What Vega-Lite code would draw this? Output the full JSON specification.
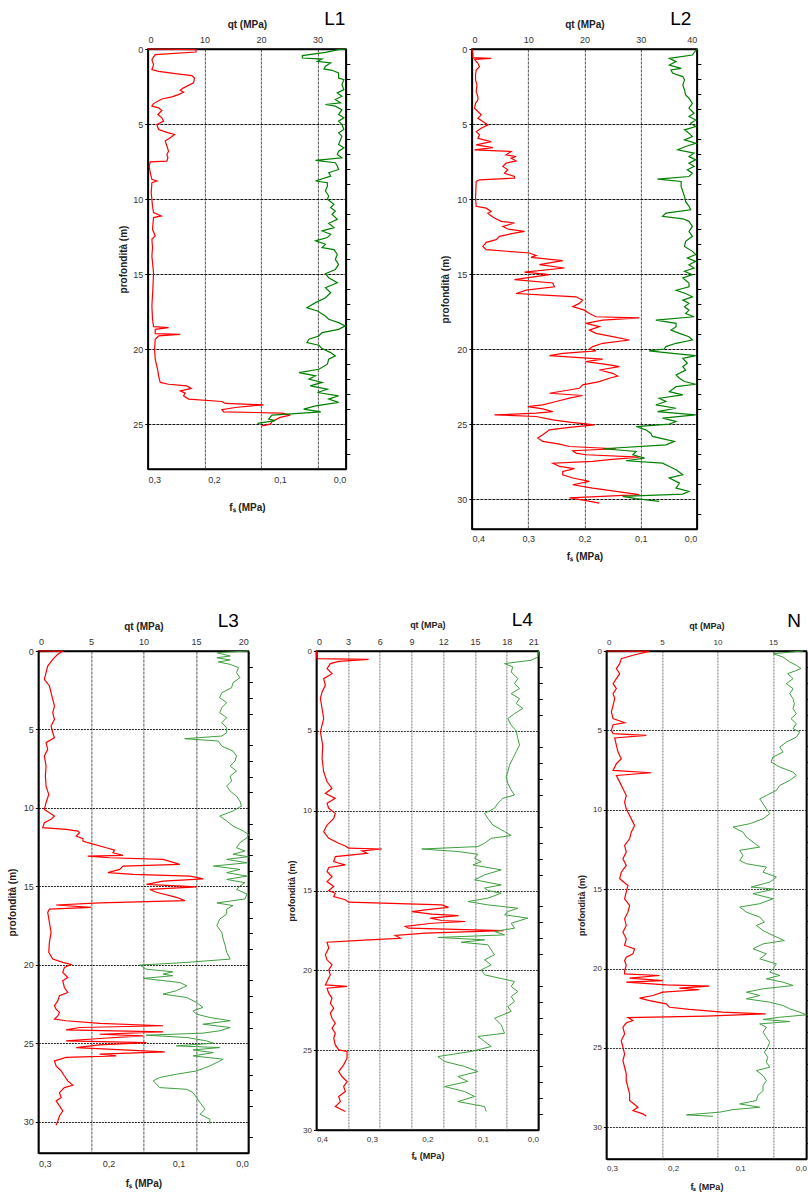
{
"$schema": "https://vega.github.io/schema/vega-lite/v6.json",
"background": "white",
"padding": {"left": 6, "top": 9, "right": 0, "bottom": 0},
"config": {
  "font": "Liberation Sans",
  "view": {"stroke": "#000", "strokeWidth": 1.5},
  "axis": {"labelFont": "Liberation Sans", "labelFontSize": 9, "labelColor": "#333", "titleFont": "Liberation Sans", "titleFontSize": 10, "titleFontWeight": "bold", "titleColor": "#222", "domainColor": "#000", "domainWidth": 1.5, "tickColor": "#000"},
  "title": {"font": "Liberation Sans", "fontSize": 19, "fontWeight": "normal", "color": "#000", "anchor": "end", "dx": -8, "offset": -10}
},
"datasets": {
"L1q": [{"d":0,"v":0},{"d":0.04,"v":8.5},{"d":0.2,"v":8.5},{"d":0.38,"v":1.3},{"d":0.71,"v":0.71},{"d":1.04,"v":1.0},{"d":1.37,"v":0.71},{"d":1.49,"v":1.89},{"d":1.64,"v":4.83},{"d":1.77,"v":7.78},{"d":1.93,"v":8.25},{"d":2.26,"v":8.07},{"d":2.59,"v":6.31},{"d":2.75,"v":5.72},{"d":2.88,"v":6.31},{"d":3.04,"v":5.42},{"d":3.19,"v":4.24},{"d":3.33,"v":2.47},{"d":3.64,"v":1.0},{"d":3.81,"v":0.71},{"d":3.92,"v":1.89},{"d":4.1,"v":2.47},{"d":4.37,"v":1.77},{"d":4.59,"v":2.47},{"d":4.81,"v":2.77},{"d":5.03,"v":1.59},{"d":5.37,"v":1.89},{"d":5.59,"v":3.65},{"d":5.7,"v":4.71},{"d":5.92,"v":3.95},{"d":6.14,"v":3.06},{"d":6.47,"v":3.36},{"d":6.81,"v":3.65},{"d":7.03,"v":3.36},{"d":7.25,"v":3.54},{"d":7.47,"v":3.36},{"d":7.52,"v":0.41},{"d":7.8,"v":0.24},{"d":8.25,"v":0.41},{"d":8.69,"v":0.71},{"d":8.8,"v":1.59},{"d":8.91,"v":0.71},{"d":9.58,"v":0.59},{"d":10.47,"v":0.82},{"d":10.91,"v":1.0},{"d":11.13,"v":2.36},{"d":11.24,"v":1.0},{"d":12.02,"v":0.82},{"d":12.46,"v":1.3},{"d":12.68,"v":0.71},{"d":13.24,"v":0.82},{"d":13.81,"v":0.71},{"d":14.92,"v":1.0},{"d":16.03,"v":0.88},{"d":17.13,"v":0.71},{"d":18.02,"v":0.82},{"d":18.51,"v":1.0},{"d":18.58,"v":3.65},{"d":18.69,"v":1.3},{"d":18.97,"v":1.3},{"d":19.02,"v":5.72},{"d":19.13,"v":1.89},{"d":19.35,"v":1.3},{"d":20.02,"v":1.18},{"d":20.68,"v":1.3},{"d":21.46,"v":1.77},{"d":21.79,"v":1.89},{"d":22.23,"v":2.18},{"d":22.35,"v":3.65},{"d":22.46,"v":6.89},{"d":22.63,"v":7.66},{"d":22.79,"v":5.72},{"d":22.94,"v":6.6},{"d":23.12,"v":6.31},{"d":23.34,"v":7.19},{"d":23.5,"v":13.08},{"d":23.63,"v":13.67},{"d":23.72,"v":20.45},{"d":23.79,"v":18.39},{"d":23.9,"v":15.44},{"d":24.05,"v":13.08},{"d":24.19,"v":13.38},{"d":24.27,"v":23.69},{"d":24.41,"v":25.16},{"d":24.56,"v":23.39},{"d":24.85,"v":21.92},{"d":25.01,"v":21.63},{"d":25.12,"v":20.15}],
"L1f": [{"d":0,"v":0.0},{"d":0.04,"v":0.011},{"d":0.22,"v":0.031},{"d":0.44,"v":0.066},{"d":0.6,"v":0.066},{"d":0.67,"v":0.036},{"d":0.82,"v":0.043},{"d":0.93,"v":0.023},{"d":1.15,"v":0.031},{"d":1.33,"v":0.033},{"d":1.42,"v":0.021},{"d":1.6,"v":0.011},{"d":1.93,"v":0.011},{"d":2.04,"v":0.003},{"d":2.37,"v":0.006},{"d":2.71,"v":0.003},{"d":2.93,"v":0.013},{"d":3.15,"v":0.006},{"d":3.37,"v":0.016},{"d":3.59,"v":0.008},{"d":3.7,"v":0.031},{"d":3.81,"v":0.016},{"d":4.04,"v":0.006},{"d":4.37,"v":0.011},{"d":4.59,"v":0.003},{"d":4.81,"v":0.011},{"d":5.03,"v":0.006},{"d":5.37,"v":0.003},{"d":5.59,"v":0.011},{"d":5.81,"v":0.006},{"d":6.03,"v":0.008},{"d":6.36,"v":0.011},{"d":6.59,"v":0.003},{"d":6.81,"v":0.011},{"d":7.03,"v":0.013},{"d":7.25,"v":0.006},{"d":7.43,"v":0.046},{"d":7.58,"v":0.016},{"d":7.8,"v":0.013},{"d":8.03,"v":0.011},{"d":8.25,"v":0.026},{"d":8.47,"v":0.023},{"d":8.8,"v":0.046},{"d":8.91,"v":0.028},{"d":9.14,"v":0.028},{"d":9.47,"v":0.031},{"d":9.8,"v":0.026},{"d":10.02,"v":0.028},{"d":10.35,"v":0.018},{"d":10.58,"v":0.023},{"d":10.8,"v":0.016},{"d":11.02,"v":0.021},{"d":11.35,"v":0.013},{"d":11.62,"v":0.026},{"d":11.91,"v":0.018},{"d":12.13,"v":0.036},{"d":12.35,"v":0.023},{"d":12.57,"v":0.028},{"d":12.79,"v":0.046},{"d":13.02,"v":0.031},{"d":13.24,"v":0.036},{"d":13.37,"v":0.018},{"d":13.7,"v":0.013},{"d":14.03,"v":0.016},{"d":14.36,"v":0.011},{"d":14.7,"v":0.016},{"d":14.98,"v":0.031},{"d":15.25,"v":0.026},{"d":15.58,"v":0.013},{"d":15.92,"v":0.031},{"d":16.25,"v":0.023},{"d":16.58,"v":0.031},{"d":16.91,"v":0.046},{"d":17.25,"v":0.059},{"d":17.47,"v":0.043},{"d":17.8,"v":0.031},{"d":18.02,"v":0.026},{"d":18.24,"v":0.011},{"d":18.46,"v":0.001},{"d":18.69,"v":0.011},{"d":18.91,"v":0.036},{"d":19.13,"v":0.041},{"d":19.35,"v":0.056},{"d":19.57,"v":0.059},{"d":19.75,"v":0.041},{"d":19.97,"v":0.036},{"d":20.24,"v":0.023},{"d":20.46,"v":0.016},{"d":20.68,"v":0.026},{"d":21.01,"v":0.028},{"d":21.35,"v":0.041},{"d":21.57,"v":0.071},{"d":21.79,"v":0.046},{"d":22.01,"v":0.056},{"d":22.23,"v":0.036},{"d":22.46,"v":0.054},{"d":22.68,"v":0.028},{"d":22.9,"v":0.043},{"d":23.12,"v":0.011},{"d":23.34,"v":0.026},{"d":23.56,"v":0.011},{"d":23.79,"v":0.046},{"d":24.01,"v":0.064},{"d":24.19,"v":0.038},{"d":24.27,"v":0.066},{"d":24.41,"v":0.112},{"d":24.67,"v":0.117},{"d":24.78,"v":0.107},{"d":24.96,"v":0.134}],
"L2q": [{"d":0,"v":0},{"d":0.29,"v":0.18},{"d":0.58,"v":0.18},{"d":0.62,"v":3.43},{"d":0.69,"v":0.47},{"d":0.95,"v":1.07},{"d":1.18,"v":1.36},{"d":1.4,"v":0.77},{"d":1.73,"v":0.65},{"d":2.06,"v":0.65},{"d":2.4,"v":0.89},{"d":2.84,"v":0.77},{"d":3.17,"v":1.07},{"d":3.39,"v":1.07},{"d":3.62,"v":0.65},{"d":3.95,"v":0.47},{"d":4.17,"v":1.07},{"d":4.39,"v":1.66},{"d":4.62,"v":1.07},{"d":4.84,"v":1.95},{"d":5.06,"v":2.84},{"d":5.28,"v":1.66},{"d":5.5,"v":0.77},{"d":5.72,"v":1.36},{"d":5.95,"v":1.07},{"d":6.17,"v":3.43},{"d":6.39,"v":0.77},{"d":6.57,"v":3.73},{"d":6.72,"v":0.47},{"d":6.83,"v":6.98},{"d":7.06,"v":6.09},{"d":7.17,"v":7.87},{"d":7.28,"v":6.98},{"d":7.46,"v":7.87},{"d":7.61,"v":6.09},{"d":7.83,"v":5.5},{"d":8.05,"v":6.39},{"d":8.28,"v":5.8},{"d":8.5,"v":7.57},{"d":8.61,"v":7.57},{"d":8.72,"v":1.36},{"d":8.83,"v":0.77},{"d":9.94,"v":0.65},{"d":10.49,"v":0.77},{"d":10.61,"v":2.54},{"d":10.83,"v":3.43},{"d":10.94,"v":2.84},{"d":11.05,"v":3.14},{"d":11.27,"v":4.02},{"d":11.49,"v":5.21},{"d":11.6,"v":7.57},{"d":11.83,"v":5.5},{"d":12.0,"v":6.39},{"d":12.16,"v":9.35},{"d":12.27,"v":7.57},{"d":12.49,"v":4.91},{"d":12.71,"v":4.32},{"d":12.89,"v":2.54},{"d":13.16,"v":1.95},{"d":13.38,"v":2.54},{"d":13.6,"v":10.24},{"d":13.76,"v":11.42},{"d":13.89,"v":10.53},{"d":14.11,"v":16.15},{"d":14.38,"v":12.01},{"d":14.6,"v":16.45},{"d":14.87,"v":9.35},{"d":15.04,"v":13.79},{"d":15.38,"v":7.57},{"d":15.6,"v":14.38},{"d":15.85,"v":14.67},{"d":16.08,"v":9.64},{"d":16.3,"v":7.87},{"d":16.41,"v":12.9},{"d":16.52,"v":18.52},{"d":16.74,"v":19.7},{"d":16.96,"v":19.11},{"d":17.18,"v":17.93},{"d":17.41,"v":20.0},{"d":17.63,"v":20.89},{"d":17.85,"v":22.07},{"d":17.92,"v":29.76},{"d":18.07,"v":23.25},{"d":18.29,"v":20.3},{"d":18.51,"v":22.66},{"d":18.74,"v":20.89},{"d":18.96,"v":22.07},{"d":19.18,"v":25.03},{"d":19.4,"v":27.99},{"d":19.62,"v":23.25},{"d":19.84,"v":21.48},{"d":20.0,"v":20.89},{"d":20.13,"v":22.07},{"d":20.29,"v":16.15},{"d":20.44,"v":13.79},{"d":20.58,"v":19.11},{"d":20.67,"v":23.25},{"d":20.84,"v":20.3},{"d":21.06,"v":24.44},{"d":21.18,"v":26.21},{"d":21.4,"v":22.66},{"d":21.62,"v":25.03},{"d":21.8,"v":25.92},{"d":21.95,"v":24.44},{"d":22.17,"v":22.66},{"d":22.39,"v":19.7},{"d":22.62,"v":19.11},{"d":22.95,"v":13.79},{"d":23.1,"v":19.7},{"d":23.28,"v":17.34},{"d":23.5,"v":14.97},{"d":23.73,"v":12.6},{"d":23.84,"v":9.94},{"d":23.99,"v":12.6},{"d":24.17,"v":14.38},{"d":24.28,"v":11.42},{"d":24.39,"v":4.02},{"d":24.5,"v":11.42},{"d":24.72,"v":14.38},{"d":24.88,"v":17.34},{"d":25.06,"v":21.78},{"d":25.23,"v":17.34},{"d":25.39,"v":13.79},{"d":25.72,"v":12.6},{"d":25.94,"v":11.72},{"d":26.16,"v":12.6},{"d":26.34,"v":15.56},{"d":26.5,"v":17.34},{"d":26.65,"v":25.62},{"d":26.78,"v":17.93},{"d":26.94,"v":18.52},{"d":27.05,"v":20.3},{"d":27.21,"v":29.76},{"d":27.38,"v":24.44},{"d":27.49,"v":21.48},{"d":27.61,"v":14.38},{"d":27.83,"v":15.56},{"d":27.98,"v":18.22},{"d":28.16,"v":16.15},{"d":28.38,"v":16.15},{"d":28.6,"v":17.93},{"d":28.82,"v":20.89},{"d":29.05,"v":17.93},{"d":29.27,"v":21.48},{"d":29.49,"v":25.62},{"d":29.71,"v":29.76},{"d":29.93,"v":17.34},{"d":30.11,"v":20.3},{"d":30.27,"v":22.66}],
"L2f": [{"d":0,"v":0},{"d":0.4,"v":0.008},{"d":0.62,"v":0.049},{"d":0.84,"v":0.037},{"d":1.07,"v":0.049},{"d":1.29,"v":0.028},{"d":1.4,"v":0.046},{"d":1.62,"v":0.043},{"d":1.84,"v":0.025},{"d":2.06,"v":0.022},{"d":2.4,"v":0.025},{"d":2.73,"v":0.022},{"d":3.06,"v":0.02},{"d":3.28,"v":0.014},{"d":3.62,"v":0.008},{"d":3.95,"v":0.014},{"d":4.28,"v":0.005},{"d":4.5,"v":0.014},{"d":4.73,"v":0.002},{"d":4.95,"v":0.011},{"d":5.17,"v":0.002},{"d":5.39,"v":0.022},{"d":5.61,"v":0.014},{"d":5.84,"v":0.008},{"d":6.06,"v":0.022},{"d":6.28,"v":0.002},{"d":6.5,"v":0.02},{"d":6.72,"v":0.034},{"d":6.94,"v":0.005},{"d":7.17,"v":0.014},{"d":7.39,"v":0.002},{"d":7.61,"v":0.014},{"d":7.83,"v":0.005},{"d":8.05,"v":0.017},{"d":8.28,"v":0.008},{"d":8.5,"v":0.014},{"d":8.68,"v":0.07},{"d":8.83,"v":0.028},{"d":9.16,"v":0.028},{"d":9.5,"v":0.025},{"d":9.83,"v":0.022},{"d":10.16,"v":0.02},{"d":10.49,"v":0.014},{"d":10.72,"v":0.011},{"d":10.94,"v":0.055},{"d":11.16,"v":0.061},{"d":11.32,"v":0.025},{"d":11.49,"v":0.014},{"d":11.83,"v":0.008},{"d":12.16,"v":0.014},{"d":12.49,"v":0.008},{"d":12.82,"v":0.02},{"d":13.16,"v":0.022},{"d":13.49,"v":0.008},{"d":13.71,"v":0.002},{"d":13.93,"v":0.017},{"d":14.16,"v":0.002},{"d":14.38,"v":0.014},{"d":14.6,"v":0.005},{"d":14.82,"v":0.022},{"d":15.04,"v":0.008},{"d":15.27,"v":0.025},{"d":15.6,"v":0.014},{"d":15.85,"v":0.014},{"d":16.08,"v":0.037},{"d":16.3,"v":0.02},{"d":16.52,"v":0.008},{"d":16.74,"v":0.025},{"d":16.96,"v":0.014},{"d":17.18,"v":0.022},{"d":17.41,"v":0.014},{"d":17.63,"v":0.02},{"d":17.85,"v":0.005},{"d":18.07,"v":0.073},{"d":18.29,"v":0.037},{"d":18.51,"v":0.037},{"d":18.74,"v":0.046},{"d":18.96,"v":0.031},{"d":19.18,"v":0.014},{"d":19.4,"v":0.008},{"d":19.62,"v":0.037},{"d":19.84,"v":0.055},{"d":20.0,"v":0.058},{"d":20.13,"v":0.085},{"d":20.29,"v":0.043},{"d":20.44,"v":0.002},{"d":20.62,"v":0.025},{"d":20.95,"v":0.017},{"d":21.18,"v":0.025},{"d":21.4,"v":0.02},{"d":21.73,"v":0.037},{"d":21.95,"v":0.031},{"d":22.17,"v":0.022},{"d":22.35,"v":0.002},{"d":22.51,"v":0.037},{"d":22.84,"v":0.049},{"d":23.06,"v":0.025},{"d":23.28,"v":0.067},{"d":23.5,"v":0.055},{"d":23.73,"v":0.073},{"d":23.95,"v":0.037},{"d":24.17,"v":0.07},{"d":24.39,"v":0.002},{"d":24.61,"v":0.061},{"d":24.83,"v":0.037},{"d":25.01,"v":0.049},{"d":25.17,"v":0.108},{"d":25.39,"v":0.091},{"d":25.61,"v":0.082},{"d":25.83,"v":0.079},{"d":26.16,"v":0.04},{"d":26.39,"v":0.055},{"d":26.65,"v":0.167},{"d":26.83,"v":0.108},{"d":27.05,"v":0.114},{"d":27.27,"v":0.093},{"d":27.45,"v":0.126},{"d":27.61,"v":0.061},{"d":27.83,"v":0.049},{"d":28.05,"v":0.037},{"d":28.38,"v":0.025},{"d":28.6,"v":0.049},{"d":28.94,"v":0.031},{"d":29.27,"v":0.037},{"d":29.49,"v":0.014},{"d":29.67,"v":0.025},{"d":29.82,"v":0.132},{"d":29.98,"v":0.108},{"d":30.16,"v":0.067}],
"L3q": [{"d":0,"v":0},{"d":0.02,"v":2.32},{"d":0.21,"v":1.85},{"d":0.53,"v":1.37},{"d":0.96,"v":0.89},{"d":1.38,"v":0.73},{"d":1.81,"v":0.57},{"d":2.23,"v":1.05},{"d":2.66,"v":1.21},{"d":3.08,"v":1.37},{"d":3.51,"v":1.53},{"d":3.93,"v":1.37},{"d":4.36,"v":1.53},{"d":4.78,"v":1.21},{"d":5.21,"v":1.37},{"d":5.53,"v":1.53},{"d":5.84,"v":0.73},{"d":6.27,"v":0.89},{"d":6.69,"v":0.57},{"d":7.33,"v":0.73},{"d":7.97,"v":0.67},{"d":8.61,"v":0.73},{"d":9.14,"v":0.99},{"d":9.67,"v":0.73},{"d":10.1,"v":0.57},{"d":10.52,"v":1.53},{"d":10.73,"v":1.21},{"d":10.95,"v":0.57},{"d":11.26,"v":0.41},{"d":11.37,"v":2.64},{"d":11.48,"v":3.76},{"d":11.58,"v":3.92},{"d":11.8,"v":3.6},{"d":11.97,"v":4.24},{"d":12.11,"v":4.24},{"d":12.22,"v":4.71},{"d":12.54,"v":6.46},{"d":12.69,"v":7.26},{"d":12.86,"v":7.1},{"d":13.03,"v":8.06},{"d":13.07,"v":4.71},{"d":13.18,"v":6.78},{"d":13.28,"v":11.88},{"d":13.6,"v":13.47},{"d":13.71,"v":8.06},{"d":13.92,"v":7.74},{"d":14.13,"v":6.62},{"d":14.24,"v":9.01},{"d":14.35,"v":14.43},{"d":14.52,"v":15.7},{"d":14.67,"v":11.88},{"d":14.88,"v":10.29},{"d":15.03,"v":15.06},{"d":15.2,"v":10.61},{"d":15.38,"v":11.24},{"d":15.7,"v":13.15},{"d":15.91,"v":13.95},{"d":16.06,"v":5.83},{"d":16.19,"v":1.69},{"d":16.34,"v":5.03},{"d":16.45,"v":1.05},{"d":16.66,"v":0.89},{"d":17.3,"v":1.05},{"d":17.94,"v":1.21},{"d":18.57,"v":1.05},{"d":19.21,"v":0.99},{"d":19.64,"v":1.37},{"d":19.85,"v":2.32},{"d":19.98,"v":3.12},{"d":20.17,"v":2.48},{"d":20.49,"v":2.32},{"d":20.81,"v":2.8},{"d":21.02,"v":2.32},{"d":21.45,"v":2.48},{"d":21.77,"v":2.8},{"d":21.98,"v":2.01},{"d":22.3,"v":1.85},{"d":22.62,"v":1.53},{"d":22.83,"v":1.69},{"d":23.04,"v":2.01},{"d":23.26,"v":1.85},{"d":23.47,"v":1.53},{"d":23.57,"v":2.64},{"d":23.74,"v":5.83},{"d":23.89,"v":11.88},{"d":24.0,"v":3.92},{"d":24.15,"v":2.64},{"d":24.28,"v":11.88},{"d":24.43,"v":5.83},{"d":24.53,"v":9.97},{"d":24.7,"v":5.83},{"d":24.85,"v":2.64},{"d":24.96,"v":10.29},{"d":25.11,"v":5.83},{"d":25.28,"v":3.6},{"d":25.43,"v":8.06},{"d":25.55,"v":12.04},{"d":25.7,"v":5.83},{"d":25.81,"v":7.42},{"d":25.91,"v":2.64},{"d":26.13,"v":1.53},{"d":26.45,"v":1.69},{"d":26.77,"v":2.17},{"d":27.09,"v":2.48},{"d":27.4,"v":2.8},{"d":27.68,"v":3.28},{"d":27.83,"v":2.48},{"d":28.15,"v":2.01},{"d":28.47,"v":2.17},{"d":28.68,"v":1.69},{"d":29.0,"v":2.01},{"d":29.32,"v":2.32},{"d":29.64,"v":2.01},{"d":29.96,"v":1.85},{"d":30.23,"v":1.69}],
"L3f": [{"d":0,"v":0},{"d":0.11,"v":0.045},{"d":0.32,"v":0.026},{"d":0.43,"v":0.045},{"d":0.57,"v":0.026},{"d":0.7,"v":0.043},{"d":0.85,"v":0.026},{"d":1.06,"v":0.014},{"d":1.38,"v":0.017},{"d":1.7,"v":0.012},{"d":2.02,"v":0.022},{"d":2.34,"v":0.024},{"d":2.66,"v":0.038},{"d":2.98,"v":0.041},{"d":3.29,"v":0.031},{"d":3.61,"v":0.038},{"d":3.93,"v":0.041},{"d":4.25,"v":0.031},{"d":4.57,"v":0.038},{"d":4.89,"v":0.031},{"d":5.21,"v":0.031},{"d":5.42,"v":0.038},{"d":5.59,"v":0.091},{"d":5.74,"v":0.043},{"d":6.06,"v":0.038},{"d":6.38,"v":0.022},{"d":6.69,"v":0.017},{"d":7.01,"v":0.019},{"d":7.33,"v":0.026},{"d":7.65,"v":0.017},{"d":7.97,"v":0.026},{"d":8.29,"v":0.024},{"d":8.61,"v":0.031},{"d":8.93,"v":0.026},{"d":9.25,"v":0.017},{"d":9.57,"v":0.012},{"d":9.89,"v":0.01},{"d":10.2,"v":0.022},{"d":10.52,"v":0.041},{"d":10.84,"v":0.031},{"d":11.16,"v":0.022},{"d":11.48,"v":0.007},{"d":11.69,"v":0.0},{"d":11.9,"v":0.002},{"d":12.22,"v":0.012},{"d":12.54,"v":0.017},{"d":12.75,"v":0.005},{"d":12.96,"v":0.022},{"d":13.11,"v":0.0},{"d":13.28,"v":0.031},{"d":13.5,"v":0.002},{"d":13.71,"v":0.05},{"d":13.92,"v":0.012},{"d":14.13,"v":0.031},{"d":14.35,"v":0.002},{"d":14.56,"v":0.031},{"d":14.77,"v":0.005},{"d":14.98,"v":0.012},{"d":15.2,"v":0.017},{"d":15.49,"v":0.002},{"d":15.81,"v":0.005},{"d":16.06,"v":0.045},{"d":16.23,"v":0.022},{"d":16.45,"v":0.031},{"d":16.77,"v":0.031},{"d":17.09,"v":0.041},{"d":17.51,"v":0.045},{"d":17.94,"v":0.038},{"d":18.36,"v":0.036},{"d":18.79,"v":0.033},{"d":19.21,"v":0.031},{"d":19.64,"v":0.026},{"d":19.85,"v":0.088},{"d":20.02,"v":0.155},{"d":20.28,"v":0.146},{"d":20.45,"v":0.108},{"d":20.6,"v":0.122},{"d":20.7,"v":0.108},{"d":20.87,"v":0.15},{"d":21.13,"v":0.098},{"d":21.34,"v":0.088},{"d":21.66,"v":0.103},{"d":21.87,"v":0.122},{"d":22.09,"v":0.088},{"d":22.4,"v":0.074},{"d":22.72,"v":0.065},{"d":22.94,"v":0.079},{"d":23.15,"v":0.074},{"d":23.36,"v":0.055},{"d":23.57,"v":0.026},{"d":23.79,"v":0.065},{"d":24.0,"v":0.026},{"d":24.21,"v":0.041},{"d":24.36,"v":0.065},{"d":24.49,"v":0.146},{"d":24.64,"v":0.088},{"d":24.85,"v":0.06},{"d":25.0,"v":0.05},{"d":25.17,"v":0.103},{"d":25.28,"v":0.041},{"d":25.43,"v":0.079},{"d":25.6,"v":0.05},{"d":25.81,"v":0.079},{"d":26.02,"v":0.036},{"d":26.23,"v":0.045},{"d":26.45,"v":0.055},{"d":26.77,"v":0.074},{"d":26.98,"v":0.103},{"d":27.19,"v":0.127},{"d":27.4,"v":0.136},{"d":27.62,"v":0.131},{"d":27.83,"v":0.127},{"d":27.94,"v":0.088},{"d":28.15,"v":0.079},{"d":28.47,"v":0.074},{"d":28.79,"v":0.069},{"d":29.21,"v":0.062},{"d":29.53,"v":0.069},{"d":29.85,"v":0.055},{"d":30.13,"v":0.055}],
"L4q": [{"d":0,"v":0},{"d":0.48,"v":0.06},{"d":0.52,"v":4.94},{"d":0.65,"v":2.11},{"d":0.79,"v":1.32},{"d":1.1,"v":1.01},{"d":1.42,"v":1.48},{"d":1.73,"v":0.69},{"d":2.15,"v":0.85},{"d":2.56,"v":0.54},{"d":2.98,"v":0.38},{"d":3.6,"v":0.54},{"d":4.23,"v":0.69},{"d":5.06,"v":0.38},{"d":5.9,"v":0.6},{"d":6.73,"v":0.54},{"d":7.56,"v":0.69},{"d":8.19,"v":1.01},{"d":8.6,"v":1.48},{"d":8.92,"v":0.85},{"d":9.23,"v":1.79},{"d":9.54,"v":1.01},{"d":9.85,"v":1.17},{"d":10.17,"v":1.79},{"d":10.48,"v":1.64},{"d":10.9,"v":1.01},{"d":11.31,"v":0.69},{"d":11.73,"v":1.17},{"d":12.04,"v":2.11},{"d":12.21,"v":2.74},{"d":12.35,"v":3.05},{"d":12.4,"v":6.2},{"d":12.52,"v":4.31},{"d":12.67,"v":4.79},{"d":12.77,"v":3.37},{"d":12.88,"v":1.79},{"d":13.19,"v":1.64},{"d":13.4,"v":2.74},{"d":13.56,"v":1.17},{"d":13.81,"v":1.01},{"d":14.13,"v":1.48},{"d":14.44,"v":1.01},{"d":14.75,"v":1.64},{"d":15.0,"v":1.17},{"d":15.17,"v":1.79},{"d":15.38,"v":1.64},{"d":15.58,"v":2.74},{"d":15.73,"v":3.05},{"d":15.9,"v":11.87},{"d":16.06,"v":12.5},{"d":16.21,"v":10.3},{"d":16.32,"v":9.04},{"d":16.48,"v":10.93},{"d":16.57,"v":13.44},{"d":16.73,"v":10.77},{"d":16.88,"v":11.87},{"d":16.94,"v":14.07},{"d":17.05,"v":10.93},{"d":17.25,"v":8.41},{"d":17.36,"v":8.72},{"d":17.51,"v":17.7},{"d":17.67,"v":10.3},{"d":17.82,"v":7.46},{"d":17.99,"v":7.93},{"d":18.09,"v":4.94},{"d":18.24,"v":1.01},{"d":18.61,"v":1.17},{"d":19.03,"v":0.85},{"d":19.34,"v":1.01},{"d":19.66,"v":1.48},{"d":19.97,"v":1.17},{"d":20.28,"v":1.32},{"d":20.7,"v":1.01},{"d":20.91,"v":0.85},{"d":21.01,"v":2.9},{"d":21.12,"v":1.01},{"d":21.43,"v":1.17},{"d":21.74,"v":1.48},{"d":22.06,"v":1.32},{"d":22.37,"v":1.64},{"d":22.68,"v":1.32},{"d":23.0,"v":1.48},{"d":23.31,"v":1.79},{"d":23.62,"v":1.48},{"d":23.94,"v":1.79},{"d":24.25,"v":1.64},{"d":24.67,"v":1.79},{"d":24.98,"v":2.11},{"d":25.08,"v":2.9},{"d":25.5,"v":2.9},{"d":25.92,"v":2.58},{"d":26.34,"v":2.11},{"d":26.65,"v":2.42},{"d":26.96,"v":2.9},{"d":27.28,"v":2.58},{"d":27.59,"v":2.74},{"d":27.9,"v":2.11},{"d":28.22,"v":2.27},{"d":28.53,"v":1.79},{"d":28.84,"v":2.74}],
"L4f": [{"d":0,"v":0},{"d":0.38,"v":0.001},{"d":0.58,"v":0.013},{"d":0.79,"v":0.061},{"d":1.0,"v":0.046},{"d":1.31,"v":0.049},{"d":1.73,"v":0.037},{"d":2.04,"v":0.043},{"d":2.35,"v":0.034},{"d":2.67,"v":0.049},{"d":2.98,"v":0.034},{"d":3.29,"v":0.04},{"d":3.6,"v":0.028},{"d":3.92,"v":0.043},{"d":4.23,"v":0.055},{"d":4.65,"v":0.049},{"d":5.0,"v":0.04},{"d":5.48,"v":0.037},{"d":5.9,"v":0.034},{"d":6.31,"v":0.04},{"d":6.73,"v":0.046},{"d":7.15,"v":0.052},{"d":7.56,"v":0.055},{"d":7.88,"v":0.058},{"d":8.29,"v":0.055},{"d":8.71,"v":0.049},{"d":9.02,"v":0.043},{"d":9.23,"v":0.064},{"d":9.54,"v":0.073},{"d":9.85,"v":0.079},{"d":10.17,"v":0.097},{"d":10.48,"v":0.091},{"d":10.9,"v":0.082},{"d":11.31,"v":0.061},{"d":11.56,"v":0.049},{"d":11.73,"v":0.085},{"d":12.04,"v":0.097},{"d":12.25,"v":0.109},{"d":12.4,"v":0.21},{"d":12.56,"v":0.145},{"d":12.73,"v":0.109},{"d":12.98,"v":0.115},{"d":13.19,"v":0.103},{"d":13.4,"v":0.118},{"d":13.71,"v":0.067},{"d":14.02,"v":0.097},{"d":14.33,"v":0.115},{"d":14.65,"v":0.067},{"d":14.85,"v":0.097},{"d":15.0,"v":0.091},{"d":15.17,"v":0.067},{"d":15.48,"v":0.091},{"d":15.69,"v":0.127},{"d":15.9,"v":0.091},{"d":16.11,"v":0.037},{"d":16.32,"v":0.055},{"d":16.52,"v":0.061},{"d":16.73,"v":0.019},{"d":17.05,"v":0.049},{"d":17.36,"v":0.043},{"d":17.57,"v":0.079},{"d":17.78,"v":0.061},{"d":17.94,"v":0.181},{"d":18.09,"v":0.097},{"d":18.24,"v":0.139},{"d":18.4,"v":0.091},{"d":18.72,"v":0.085},{"d":19.03,"v":0.079},{"d":19.34,"v":0.097},{"d":19.66,"v":0.085},{"d":19.97,"v":0.103},{"d":20.28,"v":0.097},{"d":20.7,"v":0.043},{"d":21.01,"v":0.049},{"d":21.33,"v":0.037},{"d":21.64,"v":0.049},{"d":21.95,"v":0.043},{"d":22.27,"v":0.055},{"d":22.58,"v":0.049},{"d":23.0,"v":0.079},{"d":23.41,"v":0.067},{"d":23.94,"v":0.061},{"d":24.14,"v":0.109},{"d":24.46,"v":0.097},{"d":24.77,"v":0.085},{"d":25.08,"v":0.121},{"d":25.4,"v":0.181},{"d":25.71,"v":0.169},{"d":26.02,"v":0.133},{"d":26.34,"v":0.109},{"d":26.65,"v":0.145},{"d":26.96,"v":0.127},{"d":27.28,"v":0.169},{"d":27.59,"v":0.133},{"d":27.9,"v":0.115},{"d":28.22,"v":0.145},{"d":28.53,"v":0.097},{"d":28.84,"v":0.094}],
"Nq": [{"d":0,"v":0},{"d":0.02,"v":3.88},{"d":0.27,"v":2.39},{"d":0.48,"v":1.34},{"d":0.8,"v":1.2},{"d":1.11,"v":0.9},{"d":1.43,"v":1.2},{"d":1.74,"v":0.9},{"d":2.06,"v":0.6},{"d":2.37,"v":0.9},{"d":2.69,"v":0.6},{"d":3.0,"v":0.75},{"d":3.42,"v":0.6},{"d":3.84,"v":0.45},{"d":4.26,"v":0.6},{"d":4.52,"v":1.64},{"d":4.64,"v":0.6},{"d":5.0,"v":0.45},{"d":5.21,"v":0.6},{"d":5.32,"v":3.59},{"d":5.48,"v":0.75},{"d":5.95,"v":0.9},{"d":6.37,"v":1.05},{"d":6.79,"v":1.34},{"d":7.1,"v":0.9},{"d":7.52,"v":0.6},{"d":7.67,"v":4.03},{"d":7.84,"v":0.9},{"d":8.26,"v":1.2},{"d":8.68,"v":1.49},{"d":9.1,"v":1.79},{"d":9.52,"v":1.64},{"d":9.94,"v":1.79},{"d":10.36,"v":2.09},{"d":10.78,"v":2.39},{"d":10.99,"v":2.54},{"d":11.41,"v":2.24},{"d":11.83,"v":2.09},{"d":12.25,"v":1.64},{"d":12.67,"v":1.79},{"d":13.09,"v":1.49},{"d":13.51,"v":1.79},{"d":13.93,"v":1.34},{"d":14.35,"v":1.2},{"d":14.77,"v":1.94},{"d":15.19,"v":1.79},{"d":15.61,"v":1.64},{"d":16.03,"v":2.09},{"d":16.45,"v":1.94},{"d":16.87,"v":1.64},{"d":17.29,"v":1.79},{"d":17.71,"v":1.49},{"d":18.13,"v":1.79},{"d":18.55,"v":1.64},{"d":18.76,"v":2.54},{"d":19.08,"v":2.39},{"d":19.29,"v":1.79},{"d":19.5,"v":1.64},{"d":19.81,"v":1.79},{"d":20.13,"v":1.64},{"d":20.34,"v":1.64},{"d":20.44,"v":4.78},{"d":20.61,"v":2.09},{"d":20.76,"v":5.08},{"d":20.86,"v":1.79},{"d":21.03,"v":5.38},{"d":21.11,"v":9.26},{"d":21.24,"v":6.57},{"d":21.34,"v":8.37},{"d":21.49,"v":5.08},{"d":21.7,"v":4.18},{"d":21.87,"v":2.99},{"d":22.02,"v":3.88},{"d":22.23,"v":5.38},{"d":22.44,"v":5.68},{"d":22.58,"v":7.47},{"d":22.75,"v":10.46},{"d":22.86,"v":14.34},{"d":23.0,"v":8.96},{"d":23.09,"v":1.94},{"d":23.28,"v":2.39},{"d":23.42,"v":1.79},{"d":23.7,"v":1.49},{"d":24.12,"v":1.64},{"d":24.54,"v":1.34},{"d":24.96,"v":1.49},{"d":25.38,"v":1.64},{"d":25.8,"v":1.49},{"d":26.22,"v":1.64},{"d":26.64,"v":1.79},{"d":27.06,"v":1.79},{"d":27.48,"v":1.94},{"d":27.9,"v":2.09},{"d":28.32,"v":2.09},{"d":28.74,"v":2.84},{"d":28.95,"v":2.39},{"d":29.16,"v":3.29},{"d":29.31,"v":3.59}],
"Nf": [{"d":0,"v":0.005},{"d":0.17,"v":0.05},{"d":0.38,"v":0.035},{"d":0.69,"v":0.025},{"d":0.9,"v":0.015},{"d":1.11,"v":0.008},{"d":1.43,"v":0.028},{"d":1.74,"v":0.02},{"d":2.06,"v":0.03},{"d":2.37,"v":0.02},{"d":2.69,"v":0.025},{"d":3.0,"v":0.02},{"d":3.32,"v":0.018},{"d":3.63,"v":0.02},{"d":3.95,"v":0.015},{"d":4.26,"v":0.023},{"d":4.58,"v":0.015},{"d":4.89,"v":0.02},{"d":5.1,"v":0.01},{"d":5.42,"v":0.015},{"d":5.74,"v":0.03},{"d":6.05,"v":0.04},{"d":6.37,"v":0.035},{"d":6.68,"v":0.05},{"d":7.0,"v":0.053},{"d":7.31,"v":0.04},{"d":7.63,"v":0.02},{"d":7.84,"v":0.015},{"d":8.15,"v":0.025},{"d":8.47,"v":0.04},{"d":8.78,"v":0.045},{"d":9.1,"v":0.06},{"d":9.31,"v":0.07},{"d":9.62,"v":0.065},{"d":9.94,"v":0.06},{"d":10.25,"v":0.055},{"d":10.57,"v":0.065},{"d":10.88,"v":0.085},{"d":11.09,"v":0.11},{"d":11.41,"v":0.095},{"d":11.72,"v":0.09},{"d":12.04,"v":0.08},{"d":12.35,"v":0.07},{"d":12.56,"v":0.1},{"d":12.88,"v":0.095},{"d":13.19,"v":0.1},{"d":13.4,"v":0.09},{"d":13.61,"v":0.06},{"d":13.93,"v":0.065},{"d":14.24,"v":0.045},{"d":14.56,"v":0.055},{"d":14.87,"v":0.083},{"d":15.0,"v":0.048},{"d":15.29,"v":0.08},{"d":15.61,"v":0.05},{"d":15.92,"v":0.07},{"d":16.13,"v":0.1},{"d":16.45,"v":0.09},{"d":16.76,"v":0.07},{"d":17.08,"v":0.063},{"d":17.29,"v":0.075},{"d":17.61,"v":0.065},{"d":17.92,"v":0.05},{"d":18.24,"v":0.033},{"d":18.45,"v":0.065},{"d":18.76,"v":0.08},{"d":19.08,"v":0.06},{"d":19.39,"v":0.07},{"d":19.71,"v":0.045},{"d":20.02,"v":0.05},{"d":20.23,"v":0.055},{"d":20.44,"v":0.04},{"d":20.65,"v":0.06},{"d":20.86,"v":0.035},{"d":21.07,"v":0.02},{"d":21.28,"v":0.065},{"d":21.49,"v":0.09},{"d":21.7,"v":0.07},{"d":21.91,"v":0.09},{"d":22.12,"v":0.055},{"d":22.33,"v":0.035},{"d":22.54,"v":0.025},{"d":22.75,"v":0.01},{"d":22.92,"v":0.0},{"d":23.07,"v":0.04},{"d":23.21,"v":0.065},{"d":23.34,"v":0.025},{"d":23.49,"v":0.07},{"d":23.7,"v":0.06},{"d":24.01,"v":0.065},{"d":24.33,"v":0.06},{"d":24.64,"v":0.055},{"d":24.96,"v":0.058},{"d":25.27,"v":0.063},{"d":25.59,"v":0.058},{"d":25.9,"v":0.06},{"d":26.22,"v":0.055},{"d":26.43,"v":0.075},{"d":26.74,"v":0.065},{"d":27.06,"v":0.06},{"d":27.37,"v":0.065},{"d":27.69,"v":0.065},{"d":28.0,"v":0.073},{"d":28.32,"v":0.075},{"d":28.53,"v":0.1},{"d":28.74,"v":0.07},{"d":28.89,"v":0.11},{"d":29.05,"v":0.13},{"d":29.22,"v":0.18},{"d":29.31,"v":0.14}]
},
"center": true,
"spacing": 48,
"vconcat": [
{
"spacing": 88,
"hconcat": [
{
 "width": 198, "height": 420,
 "title": {"text": "L1", "dx": -5},
 "layer": [
  {"data": {"name": "L1q"}, "mark": {"type": "line", "color": "#ff0000", "strokeWidth": 1.2},
   "encoding": {
    "x": {"field": "v", "type": "quantitative", "scale": {"domain": [0, 35], "nice": false, "zero": false}, "axis": {"orient": "top", "title": "qt (MPa)", "values": [0, 10, 20, 30], "grid": true, "gridColor": "#555", "gridDash": [3, 1], "ticks": false, "labelPadding": 5, "titlePadding": 6}},
    "y": {"field": "d", "type": "quantitative", "scale": {"domain": [0, 28], "reverse": true, "nice": false, "zero": false}, "axis": {"orient": "left", "title": "profondità (m)", "values": [0, 5, 10, 15, 20, 25], "grid": true, "gridColor": "#111", "gridDash": [3, 1], "tickSize": 3, "titlePadding": 4}},
    "order": {"field": "d", "type": "quantitative"}}},
  {"data": {"name": "L1f"}, "mark": {"type": "line", "color": "#008000", "strokeWidth": 1.2},
   "encoding": {
    "x": {"field": "v", "type": "quantitative", "scale": {"domain": [0, 0.3], "reverse": true, "nice": false, "zero": false}, "axis": {"orient": "bottom", "title": "fₛ (MPa)", "values": [0.3, 0.2, 0.1, 0], "labelExpr": "replace(format(datum.value, '.1f'), '.', ',')", "grid": false, "ticks": false, "labelPadding": 6, "titlePadding": 18}},
    "y": {"field": "d", "type": "quantitative", "scale": {"domain": [0, 28], "reverse": true, "nice": false, "zero": false}, "axis": {"orient": "right", "title": null, "values": [1,2,3,4,6,7,8,9,11,12,13,14,16,17,18,19,21,22,23,24,26,27], "labels": false, "grid": false, "tickSize": 4}},
    "order": {"field": "d", "type": "quantitative"}}}
 ],
 "resolve": {"scale": {"x": "independent"}, "axis": {"y": "independent"}}
},
{
 "width": 225, "height": 480,
 "title": {"text": "L2", "dx": -10},
 "layer": [
  {"data": {"name": "L2q"}, "mark": {"type": "line", "color": "#ff0000", "strokeWidth": 1.2},
   "encoding": {
    "x": {"field": "v", "type": "quantitative", "scale": {"domain": [0, 40], "nice": false, "zero": false}, "axis": {"orient": "top", "title": "qt (MPa)", "values": [0, 10, 20, 30, 40], "grid": true, "gridColor": "#555", "gridDash": [3, 1], "ticks": false, "labelPadding": 5, "titlePadding": 6}},
    "y": {"field": "d", "type": "quantitative", "scale": {"domain": [0, 32], "reverse": true, "nice": false, "zero": false}, "axis": {"orient": "left", "title": "profondità (m)", "values": [0, 5, 10, 15, 20, 25, 30], "grid": true, "gridColor": "#111", "gridDash": [3, 1], "tickSize": 3, "titlePadding": 6}},
    "order": {"field": "d", "type": "quantitative"}}},
  {"data": {"name": "L2f"}, "mark": {"type": "line", "color": "#008000", "strokeWidth": 1.2},
   "encoding": {
    "x": {"field": "v", "type": "quantitative", "scale": {"domain": [0, 0.4], "reverse": true, "nice": false, "zero": false}, "axis": {"orient": "bottom", "title": "fₛ (MPa)", "values": [0.4, 0.3, 0.2, 0.1, 0], "labelExpr": "replace(format(datum.value, '.1f'), '.', ',')", "grid": false, "ticks": false, "labelPadding": 5, "titlePadding": 8}},
    "y": {"field": "d", "type": "quantitative", "scale": {"domain": [0, 32], "reverse": true, "nice": false, "zero": false}, "axis": {"orient": "right", "title": null, "values": [1,2,3,4,6,7,8,9,11,12,13,14,16,17,18,19,21,22,23,24,26,27,28,29,31], "labels": false, "grid": false, "tickSize": 4}},
    "order": {"field": "d", "type": "quantitative"}}}
 ],
 "resolve": {"scale": {"x": "independent"}, "axis": {"y": "independent"}}
}
]
},
{
"spacing": 32,
"hconcat": [
{
 "width": 210, "height": 502,
 "title": {"text": "L3", "dx": -14},
 "layer": [
  {"data": {"name": "L3q"}, "mark": {"type": "line", "color": "#ff0000", "strokeWidth": 1.2},
   "encoding": {
    "x": {"field": "v", "type": "quantitative", "scale": {"domain": [0, 20], "nice": false, "zero": false}, "axis": {"orient": "top", "title": "qt (MPa)", "values": [0, 5, 10, 15, 20], "grid": true, "gridColor": "#555", "gridDash": [3, 1], "ticks": false, "labelPadding": 5, "titlePadding": 6}},
    "y": {"field": "d", "type": "quantitative", "scale": {"domain": [0, 32], "reverse": true, "nice": false, "zero": false}, "axis": {"orient": "left", "title": "profondità (m)", "values": [0, 5, 10, 15, 20, 25, 30], "grid": true, "gridColor": "#222", "gridDash": [2, 1], "tickSize": 3, "titlePadding": 6}},
    "order": {"field": "d", "type": "quantitative"}}},
  {"data": {"name": "L3f"}, "mark": {"type": "line", "color": "#3f9f3f", "strokeWidth": 1},
   "encoding": {
    "x": {"field": "v", "type": "quantitative", "scale": {"domain": [0, 0.3], "reverse": true, "nice": false, "zero": false}, "axis": {"orient": "bottom", "title": "fₛ (MPa)", "values": [0.3, 0.2, 0.1, 0], "labelExpr": "replace(format(datum.value, '.1f'), '.', ',')", "grid": false, "ticks": false, "labelPadding": 6, "titlePadding": 10}},
    "y": {"field": "d", "type": "quantitative", "scale": {"domain": [0, 32], "reverse": true, "nice": false, "zero": false}, "axis": {"orient": "right", "title": null, "values": [1,2,3,4,6,7,8,9,11,12,13,14,16,17,18,19,21,22,23,24,26,27,28,29,31], "labels": false, "grid": false, "tickSize": 4}},
    "order": {"field": "d", "type": "quantitative"}}}
 ],
 "resolve": {"scale": {"x": "independent"}, "axis": {"y": "independent"}}
},
{
 "width": 222, "height": 479,
 "title": {"text": "L4", "dx": -10},
 "layer": [
  {"data": {"name": "L4q"}, "mark": {"type": "line", "color": "#ff0000", "strokeWidth": 1.2},
   "encoding": {
    "x": {"field": "v", "type": "quantitative", "scale": {"domain": [0, 21], "nice": false, "zero": false}, "axis": {"orient": "top", "title": "qt (MPa)", "values": [0, 3, 6, 9, 12, 15, 18, 21], "grid": true, "gridColor": "#777", "gridDash": [2, 1], "ticks": false, "labelPadding": 5, "titlePadding": 8, "titleFontSize": 9}},
    "y": {"field": "d", "type": "quantitative", "scale": {"domain": [0, 30], "reverse": true, "nice": false, "zero": false}, "axis": {"orient": "left", "title": "profondità (m)", "values": [0, 5, 10, 15, 20, 25, 30], "grid": true, "gridColor": "#333", "gridDash": [2, 1], "tickSize": 3, "titlePadding": 6, "titleFontSize": 9, "labelFontSize": 8}},
    "order": {"field": "d", "type": "quantitative"}}},
  {"data": {"name": "L4f"}, "mark": {"type": "line", "color": "#3f9f3f", "strokeWidth": 1},
   "encoding": {
    "x": {"field": "v", "type": "quantitative", "scale": {"domain": [0, 0.4], "reverse": true, "nice": false, "zero": false}, "axis": {"orient": "bottom", "title": "fₛ (MPa)", "values": [0.4, 0.3, 0.2, 0.1, 0], "labelExpr": "replace(format(datum.value, '.1f'), '.', ',')", "grid": false, "ticks": false, "labelPadding": 5, "titlePadding": 8, "titleFontSize": 9, "labelFontSize": 8}},
    "y": {"field": "d", "type": "quantitative", "scale": {"domain": [0, 30], "reverse": true, "nice": false, "zero": false}, "axis": {"orient": "right", "title": null, "values": [1,2,3,4,6,7,8,9,11,12,13,14,16,17,18,19,21,22,23,24,26,27,28,29], "labels": false, "grid": false, "tickSize": 4}},
    "order": {"field": "d", "type": "quantitative"}}}
 ],
 "resolve": {"scale": {"x": "independent"}, "axis": {"y": "independent"}}
},
{
 "width": 200, "height": 508,
 "title": {"text": "N", "dx": -10},
 "layer": [
  {"data": {"name": "Nq"}, "mark": {"type": "line", "color": "#ff0000", "strokeWidth": 1.2},
   "encoding": {
    "x": {"field": "v", "type": "quantitative", "scale": {"domain": [0, 18], "nice": false, "zero": false}, "axis": {"orient": "top", "title": "qt (MPa)", "values": [0, 5, 10, 15], "grid": true, "gridColor": "#777", "gridDash": [2, 1], "ticks": false, "labelPadding": 5, "titlePadding": 8, "titleFontSize": 9, "labelFontSize": 8}},
    "y": {"field": "d", "type": "quantitative", "scale": {"domain": [0, 32], "reverse": true, "nice": false, "zero": false}, "axis": {"orient": "left", "title": "profondità (m)", "values": [0, 5, 10, 15, 20, 25, 30], "grid": true, "gridColor": "#333", "gridDash": [2, 1], "tickSize": 3, "titlePadding": 6, "titleFontSize": 9, "labelFontSize": 8}},
    "order": {"field": "d", "type": "quantitative"}}},
  {"data": {"name": "Nf"}, "mark": {"type": "line", "color": "#3f9f3f", "strokeWidth": 1},
   "encoding": {
    "x": {"field": "v", "type": "quantitative", "scale": {"domain": [0, 0.3], "reverse": true, "nice": false, "zero": false}, "axis": {"orient": "bottom", "title": "fₛ (MPa)", "values": [0.3, 0.2, 0.1, 0], "labelExpr": "replace(format(datum.value, '.1f'), '.', ',')", "grid": false, "ticks": false, "labelPadding": 5, "titlePadding": 10, "titleFontSize": 9, "labelFontSize": 8}},
    "y": {"field": "d", "type": "quantitative", "scale": {"domain": [0, 32], "reverse": true, "nice": false, "zero": false}, "axis": {"orient": "right", "title": null, "values": [1,2,3,4,6,7,8,9,11,12,13,14,16,17,18,19,21,22,23,24,26,27,28,29,31], "labels": false, "grid": false, "tickSize": 4}},
    "order": {"field": "d", "type": "quantitative"}}}
 ],
 "resolve": {"scale": {"x": "independent"}, "axis": {"y": "independent"}}
}
]
}
]
}
